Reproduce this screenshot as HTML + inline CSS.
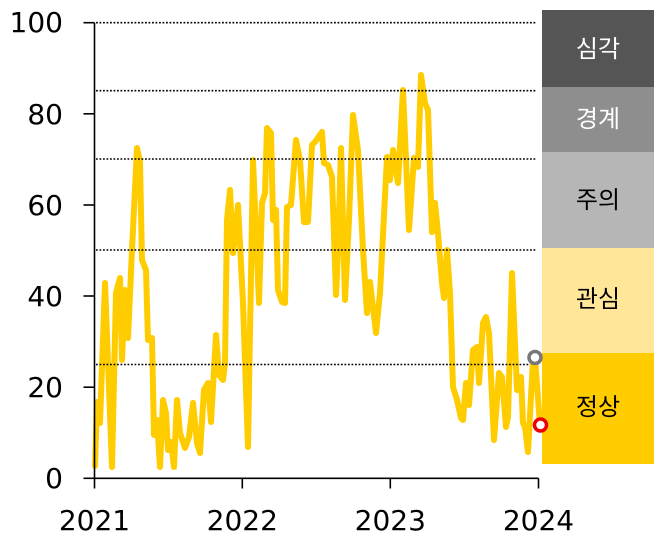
<!DOCTYPE html>
<html>
<head>
<meta charset="utf-8">
<style>
  html, body { margin: 0; padding: 0; background: #ffffff; }
  svg { display: block; }
  .ax { font-family: "DejaVu Sans", "Liberation Sans", sans-serif; font-size: 28px; fill: #000; }
  .bl { font-family: "Liberation Sans", "Noto Sans CJK KR", sans-serif; font-size: 24px; }
</style>
</head>
<body>
<svg width="668" height="549" viewBox="0 0 668 549" xmlns="http://www.w3.org/2000/svg">
  <rect x="0" y="0" width="668" height="549" fill="#ffffff"/>

  <!-- right bands -->
  <rect x="542" y="10" width="112" height="77" fill="#555555"/>
  <rect x="542" y="87" width="112" height="65" fill="#8e8e8e"/>
  <rect x="542" y="152" width="112" height="96" fill="#b6b6b6"/>
  <rect x="542" y="248" width="112" height="105" fill="#ffe699"/>
  <rect x="542" y="353" width="112" height="111" fill="#ffcc00"/>
  <text class="bl" x="598" y="57" text-anchor="middle" fill="#ffffff">심각</text>
  <text class="bl" x="598" y="127" text-anchor="middle" fill="#ffffff">경계</text>
  <text class="bl" x="598" y="208" text-anchor="middle" fill="#000000">주의</text>
  <text class="bl" x="598" y="307" text-anchor="middle" fill="#000000">관심</text>
  <text class="bl" x="598" y="415" text-anchor="middle" fill="#000000">정상</text>

  <!-- series -->
  <polyline fill="none" stroke="#ffcc00" stroke-width="6" stroke-linejoin="round" stroke-linecap="round"
    points="95,466 97,402 100,423 105,283 112,467 116,293 120,278 122,360 125,290 128,338 132,250 137,148 140,162 142,260 146,270 148,340 152,338 154,435 157,420 160,467 163,400 166,413 168,450 171,442 174,467 177,400 180,433 185,448 189,437 193,403 197,443 200,453 204,390 208,383 211,422 213,387 216,335 219,375 223,380 225,363 227,220 230,190 233,253 238,205 243,303 248,447 253,160 259,303 262,203 265,193 267,128 271,133 273,220 276,210 278,290 282,302 285,303 287,207 291,205 296,140 300,160 304,222 308,222 312,145 315,142 322,132 324,163 328,165 332,177 336,295 338,250 341,148 345,300 349,220 353,115 358,150 363,250 367,313 370,282 376,333 380,293 387,157 390,180 393,150 398,183 403,90 409,230 414,158 418,167 421,75 425,103 428,110 432,232 435,203 438,233 442,283 444,298 447,250 450,293 453,387 457,400 461,418 463,420 466,383 469,405 473,350 477,347 479,383 483,323 486,317 489,333 494,440 499,373 502,377 506,427 508,417 512,273 517,390 521,377 523,423 525,427 528,452 533,360 535,358 540,425"/>

  <!-- dotted gridlines (drawn above series) -->
  <g stroke="#000" stroke-width="1.6" stroke-dasharray="1.8 1.7" fill="none">
    <line x1="96" y1="22.7" x2="537" y2="22.7"/>
    <line x1="96" y1="90.7" x2="537" y2="90.7"/>
    <line x1="96" y1="159" x2="537" y2="159"/>
    <line x1="96" y1="250" x2="537" y2="250"/>
    <line x1="96" y1="364.5" x2="530" y2="364.5"/>
  </g>

  <!-- axes -->
  <g stroke="#000" stroke-width="1.6" fill="none">
    <line x1="94.5" y1="22.7" x2="94.5" y2="478.3"/>
    <line x1="94.5" y1="478.3" x2="538.5" y2="478.3"/>
    <line x1="83.5" y1="22.7" x2="94.5" y2="22.7"/>
    <line x1="83.5" y1="113.8" x2="94.5" y2="113.8"/>
    <line x1="83.5" y1="205" x2="94.5" y2="205"/>
    <line x1="83.5" y1="296" x2="94.5" y2="296"/>
    <line x1="83.5" y1="387.2" x2="94.5" y2="387.2"/>
    <line x1="83.5" y1="478.3" x2="94.5" y2="478.3"/>
    <line x1="94.5" y1="478.3" x2="94.5" y2="488.5"/>
    <line x1="242.3" y1="478.3" x2="242.3" y2="488.5"/>
    <line x1="390.3" y1="478.3" x2="390.3" y2="488.5"/>
    <line x1="538.5" y1="478.3" x2="538.5" y2="488.5"/>
  </g>

  <!-- y labels -->
  <text class="ax" x="63" y="32" text-anchor="end">100</text>
  <text class="ax" x="63" y="124" text-anchor="end">80</text>
  <text class="ax" x="63" y="215" text-anchor="end">60</text>
  <text class="ax" x="63" y="306" text-anchor="end">40</text>
  <text class="ax" x="63" y="397" text-anchor="end">20</text>
  <text class="ax" x="63" y="488" text-anchor="end">0</text>

  <!-- x labels -->
  <text class="ax" x="94.5" y="530" text-anchor="middle">2021</text>
  <text class="ax" x="242.3" y="530" text-anchor="middle">2022</text>
  <text class="ax" x="390.3" y="530" text-anchor="middle">2023</text>
  <text class="ax" x="538.5" y="530" text-anchor="middle">2024</text>

  <!-- markers -->
  <circle cx="535" cy="357.5" r="6" fill="#ffffff" stroke="#777777" stroke-width="3.5"/>
  <circle cx="540.5" cy="425" r="6" fill="#ffffff" stroke="#ee0000" stroke-width="3.5"/>
</svg>
</body>
</html>
